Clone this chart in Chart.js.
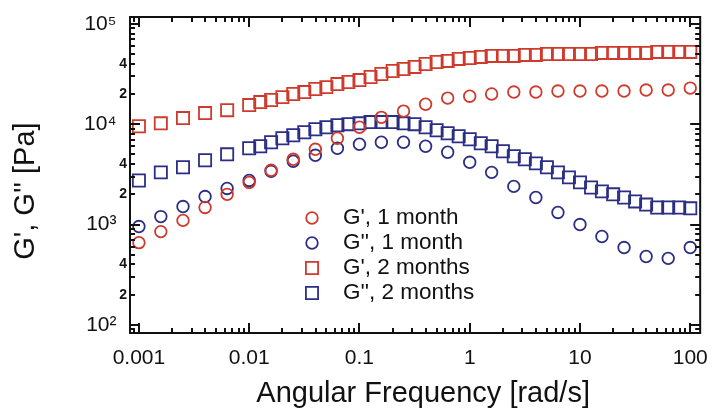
<!DOCTYPE html>
<html>
<head>
<meta charset="utf-8">
<script src="https://cdn.jsdelivr.net/npm/chart.js@4.4.0/dist/chart.umd.min.js"></script>
<style>
body { margin: 0; background: #fff; }
</style>
</head>
<body>
<canvas id="myChart" width="721" height="411"></canvas>
<script>
// angular frequency [rad/s], 1 month sample (5 points per decade)
const freq1 = [0.001, 0.00158, 0.00251, 0.00398, 0.00631, 0.01, 0.0158, 0.0251, 0.0398, 0.0631,
    0.1, 0.158, 0.251, 0.398, 0.631, 1, 1.58, 2.51, 3.98, 6.31, 10, 15.8, 25.1, 39.8, 63.1, 100]
const storage1 = [660, 850, 1100, 1480, 2000, 2630, 3470, 4470, 5620, 7240,
    9330, 11700, 13500, 15800, 18200, 19000, 20000, 20900, 20900, 21400, 21400, 21400, 21400, 21900, 21900, 22900]
const loss1 = [955, 1200, 1510, 1900, 2290, 2750, 3390, 4270, 4900, 5750,
    6310, 6610, 6610, 6030, 5250, 4170, 3310, 2400, 1860, 1320, 1000, 760, 590, 480, 460, 590]

// 2 months sample (5 per decade below 0.01, then 10 per decade)
const freq2 = [0.001, 0.00158, 0.00251, 0.00398, 0.00631, 0.01, 0.0126, 0.0158, 0.02, 0.0251,
    0.0316, 0.0398, 0.0501, 0.0631, 0.0794, 0.1, 0.126, 0.158, 0.2, 0.251,
    0.316, 0.398, 0.501, 0.631, 0.794, 1, 1.26, 1.58, 2, 2.51,
    3.16, 3.98, 5.01, 6.31, 7.94, 10, 12.6, 15.8, 20, 25.1,
    31.6, 39.8, 50.1, 63.1, 79.4, 100]
const storage2 = [9550, 10200, 11500, 12900, 13800, 15500, 16600, 17400, 18600, 20000,
    20900, 22400, 23400, 25100, 26300, 27500, 29500, 31600, 33900, 35500,
    37200, 39800, 41700, 42700, 44700, 45700, 46800, 47900, 47900, 47900,
    49000, 49000, 50100, 50100, 50100, 50100, 50100, 51300, 51300, 51300,
    51300, 51300, 52500, 52500, 52500, 52500]
const loss2 = [2750, 3310, 3720, 4370, 5010, 5750, 6030, 6610, 7240, 7760,
    8320, 8910, 9330, 9770, 10000, 10200, 10500, 10500, 10500, 10200,
    10000, 9330, 8710, 8130, 7590, 7080, 6460, 6030, 5370, 4790,
    4470, 4070, 3720, 3310, 2950, 2630, 2340, 2140, 2000, 1860,
    1700, 1580, 1480, 1480, 1480, 1450]

const seriesLabels = ["G', 1 month", "G'', 1 month", "G', 2 months", "G'', 2 months"]
const xTicks = [0.001, 0.01, 0.1, 1, 10, 100]
const xTickLabels = ['0.001', '0.01', '0.1', '1', '10', '100']
const yTicks = [100, 200, 400, 1000, 2000, 4000, 10000, 20000, 40000, 100000]
const yTickLabels = ['10\u00B2', '2', '4', '10\u00B3', '2', '4', '10\u2074', '2', '4', '10\u2075']

const red = '#cf3a2c'
const blue = '#2b2e85'
const font = "'Liberation Sans', Arial, Helvetica, sans-serif"

function pairs(xs, ys) {
    return xs.map((x, i) => ({ x: x, y: ys[i] }))
}

// box around the plot with inward log ticks on all four sides
const frameTicks = {
    id: 'frameTicks',
    afterDraw(chart) {
        const ctx = chart.ctx
        const a = chart.chartArea
        const xs = chart.scales.x
        const ys = chart.scales.y
        ctx.save()
        ctx.strokeStyle = '#111'
        ctx.lineWidth = 2
        ctx.beginPath()
        for (let e = -4; e <= 5; e++) {
            for (let m = 1; m <= 9; m++) {
                const v = m * Math.pow(10, e)
                const len = m === 1 ? 10 : 5
                if (v > xs.min && v < xs.max) {
                    const px = Math.round(xs.getPixelForValue(v))
                    ctx.moveTo(px, a.bottom); ctx.lineTo(px, a.bottom - len)
                    ctx.moveTo(px, a.top); ctx.lineTo(px, a.top + len)
                }
                if (v > ys.min && v < ys.max) {
                    const py = Math.round(ys.getPixelForValue(v))
                    ctx.moveTo(a.left, py); ctx.lineTo(a.left + len, py)
                    ctx.moveTo(a.right, py); ctx.lineTo(a.right - len, py)
                }
            }
        }
        ctx.stroke()
        ctx.strokeRect(a.left, a.top, a.right - a.left, a.bottom - a.top)
        ctx.restore()
    }
}

// legend block inside the plot, below the curves
const insideLegend = {
    id: 'insideLegend',
    afterDraw(chart, args, opts) {
        const ctx = chart.ctx
        ctx.save()
        ctx.font = opts.font
        ctx.textBaseline = 'middle'
        chart.data.datasets.forEach((ds, i) => {
            const y = opts.top + i * opts.rowGap
            ctx.fillStyle = 'rgba(0,0,0,0)'
            ctx.strokeStyle = ds.borderColor
            ctx.lineWidth = ds.borderWidth
            Chart.helpers.drawPoint(ctx, { pointStyle: ds.pointStyle, radius: ds.pointRadius, rotation: 0, borderWidth: ds.borderWidth }, opts.markerX, y)
            ctx.fillStyle = '#111'
            ctx.fillText(ds.label, opts.textX, y)
        })
        ctx.restore()
    }
}

function makeSet(label, xs, ys, color, style, r) {
    return {
        label: label,
        data: pairs(xs, ys),
        borderColor: color,
        backgroundColor: 'rgba(0,0,0,0)',
        pointStyle: style,
        pointRadius: r,
        pointHoverRadius: r,
        borderWidth: 1.8,
        showLine: false
    }
}

const config = {
    type: 'scatter',
    data: {
        datasets: [
            makeSet(seriesLabels[0], freq1, storage1, red, 'circle', 5.8),
            makeSet(seriesLabels[1], freq1, loss1, blue, 'circle', 5.8),
            makeSet(seriesLabels[2], freq2, storage2, red, 'rect', 8.6),
            makeSet(seriesLabels[3], freq2, loss2, blue, 'rect', 8.6)
        ]
    },
    options: {
        responsive: false,
        animation: false,
        devicePixelRatio: 1,
        layout: { padding: { left: 0, top: 17, right: 13, bottom: 0 } },
        plugins: {
            legend: { display: false },
            tooltip: { enabled: false },
            insideLegend: { top: 218, rowGap: 25, markerX: 312, textX: 343, font: '22.5px ' + font }
        },
        scales: {
            x: {
                type: 'logarithmic',
                min: 0.00083,
                max: 123,
                grid: { display: false, drawTicks: false },
                border: { display: false },
                afterBuildTicks: (scale) => { scale.ticks = xTicks.map(v => ({ value: v })) },
                afterFit: (scale) => { scale.height = 78 },
                ticks: {
                    autoSkip: false,
                    maxRotation: 0,
                    minRotation: 0,
                    padding: 13,
                    color: '#111',
                    font: { family: font, size: 21 },
                    callback: (v) => xTickLabels[xTicks.indexOf(v)]
                },
                title: {
                    display: true,
                    text: '  Angular Frequency [rad/s]',
                    color: '#111',
                    font: { family: font, size: 29 },
                    padding: { top: 0, bottom: 0 }
                }
            },
            y: {
                type: 'logarithmic',
                min: 83,
                max: 117000,
                grid: { display: false, drawTicks: false },
                border: { display: false },
                afterBuildTicks: (scale) => { scale.ticks = yTicks.map(v => ({ value: v })) },
                afterFit: (scale) => { scale.width = 130 },
                ticks: {
                    autoSkip: false,
                    padding: 3,
                    color: '#111',
                    font: (c) => {
                        const minor = yTickLabels[c.index] && yTickLabels[c.index].length === 1
                        return minor ? { family: font, size: 14, weight: 'bold' } : { family: font, size: 21 }
                    },
                    callback: (v, i) => {
                        const t = yTickLabels[i]
                        return t.length === 1 ? t : t + '\u2002'
                    }
                },
                title: {
                    display: true,
                    text: "G', G'' [Pa]    ",
                    color: '#111',
                    font: { family: font, size: 29 },
                    padding: { top: 9, bottom: 0 }
                }
            }
        }
    },
    plugins: [frameTicks, insideLegend]
}

const myChart = new Chart(document.getElementById('myChart'), config)
</script>
</body>
</html>
